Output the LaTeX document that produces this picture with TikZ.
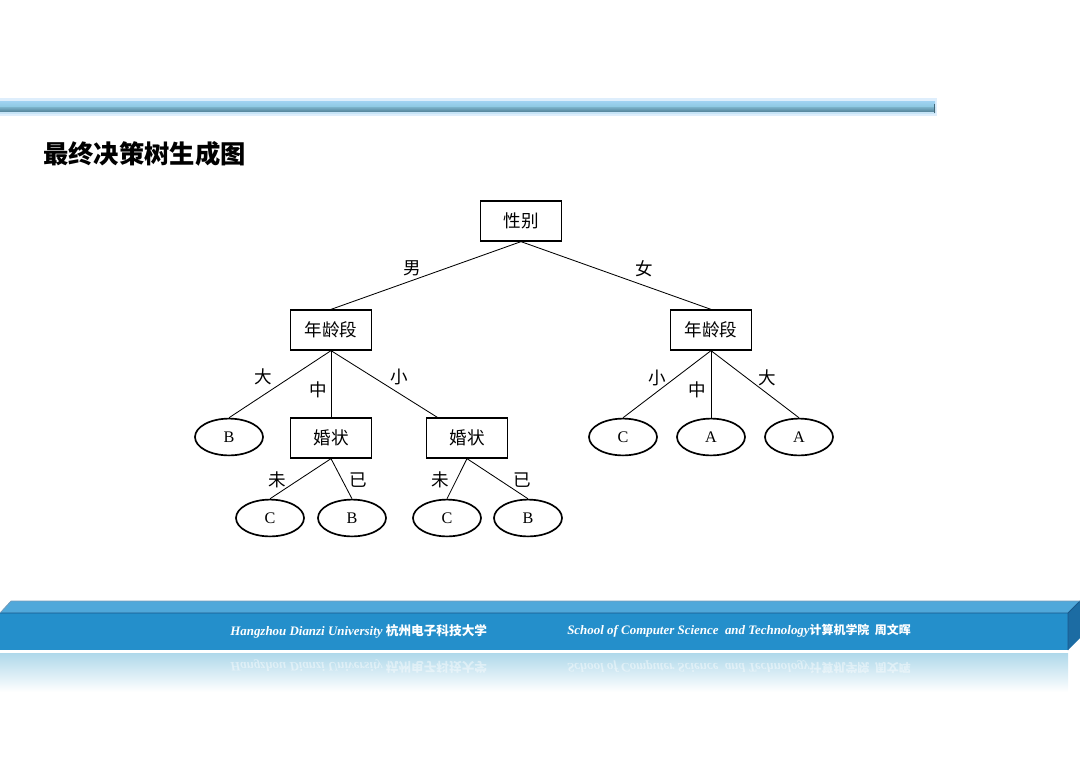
\documentclass[tikz,border=0pt]{standalone}
\usepackage{fontspec}
\setmainfont{Liberation Serif}
\newfontfamily\cjk{Noto Sans CJK SC}
\usetikzlibrary{shapes.geometric,calc}
\definecolor{barfront}{RGB}{36,143,203}
\definecolor{bartop}{RGB}{80,168,218}
\definecolor{barside}{RGB}{28,108,163}
\definecolor{baredge}{RGB}{26,88,138}
\definecolor{ruleglow}{RGB}{222,238,252}
\definecolor{rulehi}{RGB}{160,210,242}
\definecolor{rulemid}{RGB}{140,200,225}
\definecolor{rulelo}{RGB}{82,128,150}
\tikzset{attr/.style={draw,line width=0.9pt,minimum width=2.025cm,minimum height=1.0cm,inner sep=0pt,font=\cjk\fontsize{12.5}{14}\selectfont},
  leaf/.style={draw,ellipse,line width=1.2pt,minimum width=1.7cm,minimum height=0.92cm,inner sep=0pt,font=\fontsize{11.5}{13}\selectfont},
  val/.style={inner sep=0pt,font=\cjk\fontsize{12.5}{14}\selectfont},
  edge/.style={line width=0.6pt},
  foot/.style={anchor=west,inner sep=0pt,text=white,font=\bfseries\itshape\fontsize{9.2}{11}\selectfont}}

\begin{document}
\begin{tikzpicture}[x=0.25mm,y=-0.25mm]
\useasboundingbox (0,0) rectangle (1080,763);
% top rule
\fill[ruleglow] (0,98) rectangle (937,116);
\shade[top color=rulehi,bottom color=rulemid] (0,101) rectangle (935,107);
\shade[top color=rulemid!70!rulelo,bottom color=rulelo] (0,107) rectangle (935,112);
\fill[rulehi!60] (0,112) rectangle (935,114);
\draw[rulelo!80!black,line width=1pt] (934.5,104) -- (934.5,113);

\node[anchor=west,inner sep=0pt,font=\cjk\bfseries\fontsize{18}{20}\selectfont] (title) at (43,154) {最终决策树生成图};

% tree
\node[attr] (root) at (521,221) {性别};
\node[attr] (age1) at (331,330) {年龄段};
\node[attr] (age2) at (711,330) {年龄段};
\node[leaf] (b1) at (229,437) {B};
\node[attr] (mar1) at (331,438) {婚状};
\node[attr] (mar2) at (467,438) {婚状};
\node[leaf] (c3) at (623,437) {C};
\node[leaf] (a1) at (711,437) {A};
\node[leaf] (a2) at (799,437) {A};
\node[leaf] (c1) at (270,518) {C};
\node[leaf] (b2) at (352,518) {B};
\node[leaf] (c2) at (447,518) {C};
\node[leaf] (b3) at (528,518) {B};
\coordinate (mar2in) at ($(mar2.north west)!0.14!(mar2.north east)$);

\draw[edge] (root.south) -- (age1.north);
\draw[edge] (root.south) -- (age2.north);
\draw[edge] (age1.south) -- (b1.north);
\draw[edge] (age1.south) -- (mar1.north);
\draw[edge] (age1.south) -- (mar2in);
\draw[edge] (mar1.south) -- (c1.north);
\draw[edge] (mar1.south) -- (b2.north);
\draw[edge] (mar2.south) -- (c2.north);
\draw[edge] (mar2.south) -- (b3.north);
\draw[edge] (age2.south) -- (c3.north);
\draw[edge] (age2.south) -- (a1.north);
\draw[edge] (age2.south) -- (a2.north);

\node[val] (lmale) at (412,268) {男};
\node[val] (lfemale) at (644,269) {女};
\node[val] (lbig1) at (263,377) {大};
\node[val] (lmid1) at (318,390) {中};
\node[val] (lsmall1) at (399,377) {小};
\node[val] (lno1) at (277,480) {未};
\node[val] (lyes1) at (358,480) {已};
\node[val] (lno2) at (440,480) {未};
\node[val] (lyes2) at (522,480) {已};
\node[val] (lsmall2) at (657,378) {小};
\node[val] (lmid2) at (697,390) {中};
\node[val] (lbig2) at (767,378) {大};

% footer bar
\shade[top color=rulemid!70,bottom color=white] (0,653) rectangle (1068,692);
\fill[bartop] (0,613) -- (11,601) -- (1080,601) -- (1068,613) -- cycle;
\fill[barfront] (0,613) rectangle (1068,650);
\fill[barside] (1068,613) -- (1080,601) -- (1080,638) -- (1068,650) -- cycle;
\draw[baredge,line width=0.6pt] (0,613) -- (1068,613) -- (1080,601) (1068,613) -- (1068,650);
\draw[baredge!60,line width=0.5pt] (0,613) -- (11,601) -- (1080,601);

\node[foot] (uni) at (230,631) {Hangzhou Dianzi University {\cjk\fontsize{9}{11}\selectfont 杭州电子科技大学}};
\node[foot] (school) at (567,631) {School of Computer Science\ \ and Technology{\cjk\fontsize{8.5}{11}\selectfont 计算机学院\ \ 周文晖}};
\node[foot,yscale=-1,opacity=0.45] (unirefl) at (230,667) {Hangzhou Dianzi University {\cjk\fontsize{9}{11}\selectfont 杭州电子科技大学}};
\node[foot,yscale=-1,opacity=0.45] (schoolrefl) at (567,667) {School of Computer Science\ \ and Technology{\cjk\fontsize{8.5}{11}\selectfont 计算机学院\ \ 周文晖}};
\end{tikzpicture}
\end{document}
